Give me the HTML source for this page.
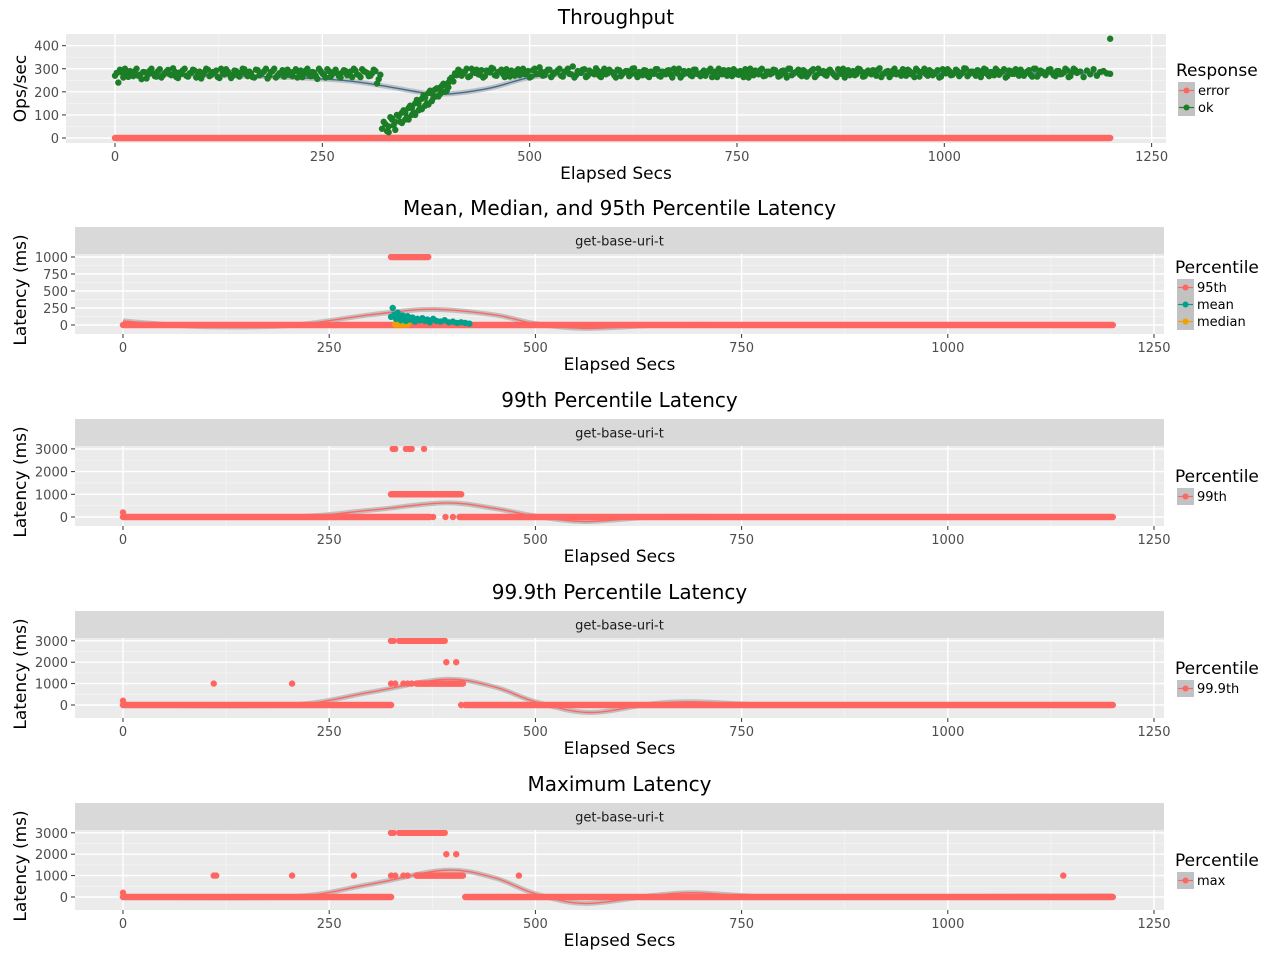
<!DOCTYPE html>
<html><head><meta charset="utf-8">
<style>
html,body{margin:0;padding:0;background:#fff;}
svg{display:block;font-family:"DejaVu Sans","Liberation Sans",sans-serif;}
</style></head>
<body>
<svg id="chart" width="1280" height="960" xmlns="http://www.w3.org/2000/svg"></svg>
<script>
// ---------- DATA ----------
const xTicks = [0, 250, 500, 750, 1000, 1250];
const throughputTicks = [0, 100, 200, 300, 400];
const latencyTicks2 = [0, 250, 500, 750, 1000];
const latencyTicks = [0, 1000, 2000, 3000];

// throughput "ok" samples every 4 s (t = 0..1200)
const okValues = [270,240,285,300,265,280,290,270,255,285,275,300,268,290,262,280,295,272,288,260,
278,300,266,284,292,270,258,286,296,274,282,264,300,276,288,260,292,272,284,298,
268,280,262,294,276,290,258,286,300,270,282,266,296,274,288,262,292,278,300,268,
284,256,290,274,298,266,286,280,262,294,272,288,300,276,264,290,282,270,296,236,
274,70,30,90,55,100,70,120,90,140,110,165,130,185,150,205,175,215,190,235,
205,255,245,272,290,280,300,268,286,296,274,262,292,284,300,270,288,276,298,266,
282,290,272,300,284,262,294,278,306,270,288,296,274,284,300,266,290,278,310,272,
286,296,264,292,280,302,270,288,276,296,284,262,294,278,290,268,300,276,286,272,
292,264,282,298,270,288,276,294,262,286,300,272,280,290,268,296,278,284,270,292,
264,288,300,276,282,294,268,290,274,286,298,262,282,292,276,300,270,288,280,294,
266,290,278,300,272,284,296,268,288,276,292,264,300,282,274,290,286,270,298,278,
262,294,284,272,300,288,268,292,276,286,296,264,280,290,274,300,282,270,288,296,
276,264,292,284,300,270,288,278,294,266,286,298,272,282,290,276,302,268,288,280,
294,264,300,276,286,272,292,282,298,268,290,278,284,296,270,288,274,300,266,292,
280,286,298,272,290,276,284,294,268,300,282,288,264,292,276,298,270,286,290,280,278];
// throughput "ok" samples at t = 2, 6, 10, ... 1198
const okValues2 = [282,296,262,278,290,268,300,274,286,258,292,280,266,298,272,288,276,302,264,284,
294,270,280,296,262,288,274,300,268,286,292,260,282,298,276,270,290,266,300,278,
288,264,296,272,284,300,270,290,262,280,294,276,288,268,298,284,264,292,274,286,
270,300,280,262,290,276,296,268,284,290,278,264,292,272,298,286,268,280,290,255,
40,60,25,85,70,95,110,80,130,100,150,120,170,140,195,160,210,180,225,200,
240,262,280,296,270,288,264,300,282,276,294,268,290,304,272,286,296,264,280,292,
270,298,284,276,290,266,300,278,288,272,296,264,284,294,270,288,300,276,262,290,
282,298,270,286,276,292,264,300,280,288,272,296,268,284,290,276,302,264,282,294,
270,288,278,298,266,284,292,274,300,280,262,290,286,272,296,278,268,292,284,300,
276,264,288,294,270,282,298,276,290,264,286,300,272,280,294,268,288,276,296,284,
270,292,262,300,278,288,274,294,266,286,298,272,282,290,270,296,278,264,288,300,
284,272,290,276,298,266,286,280,294,270,302,278,288,264,292,276,284,298,270,290,
282,300,266,288,276,294,272,286,262,298,280,290,274,296,268,284,300,276,288,270,
290,280,296,268,284,300,274,288,262,292,278,298,270,286,282,294,266,300,276,288,
272,296,282,268,290,278,300,264,286,294];
const okExtraT = [330,334,338,342,346,350,354,358,362,366,370,374,378,382,386,390,394,398,402,406,1200];
const okExtraV = [50,80,35,95,65,110,80,130,100,150,125,175,145,195,180,215,200,230,220,260,430];
const tpSmoothT = [0,100,200,280,330,390,450,500,550,600,800,1000,1200];
const tpSmoothV = [278,272,264,248,222,190,215,262,278,281,280,281,282];
const errorRuns = [[0,1200,0]];

// panel 2: mean/median/95th
const p95Runs = [[0,1200,0],[325,370,1000]];
const meanT = [325,327,329,331,333,335,337,339,341,343,345,348,351,354,357,360,363,366,369,372,376,380,385,390,395,400,405,410,415,420];
const meanV = [120,250,150,90,180,110,70,140,100,60,130,80,110,50,90,70,100,60,80,40,90,60,50,70,40,50,30,40,30,20];
const medianRuns = [[330,345,10]];
const smooth2T = [0,50,100,200,300,375,450,500,560,650,700,800,1200];
const smooth2V = [60,10,-25,-10,150,230,150,20,-50,0,10,0,0];

// panel 3: 99th
const p99Runs = [[0,372,0],[408,1200,0],[325,410,1000]];
const p99T = [0,327,330,343,347,350,365,376,391,400];
const p99V = [200,3000,3000,3000,3000,3000,3000,0,0,0];
const smooth3T = [0,200,300,390,450,500,560,640,700,800,1200];
const smooth3V = [0,0,300,620,380,40,-200,0,30,0,0];

// panel 4: 99.9th
const p999Runs = [[0,325,0],[415,1200,0],[325,328,3000],[335,390,3000],[356,412,1000]];
const p999T = [0,110,205,325,330,340,345,350,392,404,410];
const p999V = [200,1000,1000,1000,1000,1000,1000,1000,2000,2000,0];
const smooth4T = [0,200,300,390,450,500,565,640,690,760,800,1200];
const smooth4V = [0,0,600,1200,850,150,-350,50,150,30,0,0];

// panel 5: max
const maxRuns = [[0,325,0],[415,1200,0],[325,328,3000],[335,390,3000],[356,412,1000]];
const maxT = [0,110,113,205,280,325,330,340,345,392,404,480,1140];
const maxV = [200,1000,1000,1000,1000,1000,1000,1000,1000,2000,2000,1000,1000];
const smooth5T = [0,200,300,390,450,500,560,640,690,760,800,1200];
const smooth5V = [0,0,600,1250,900,150,-300,60,200,40,0,50];

// ---------- RENDER ----------
const NS = "http://www.w3.org/2000/svg";
const svg = document.getElementById("chart");
const RED = "#FF6661", GREEN = "#1B7E26", TEAL = "#00A08A", ORANGE = "#F0A000";
function mk(tag, attrs, parent) {
  const e = document.createElementNS(NS, tag);
  for (const k in attrs) e.setAttribute(k, attrs[k]);
  (parent || svg).appendChild(e);
  return e;
}
function txt(s, x, y, size, anchor, parent, extra) {
  const e = mk("text", Object.assign({x:x, y:y, "font-size":size, "text-anchor":anchor||"middle", fill:"#000"}, extra||{}), parent);
  e.textContent = s;
  return e;
}

function panel(cfg) {
  const g = mk("g", {});
  
  
  const sx = t => cfg.x0 + t * cfg.kx;
  const sy = v => cfg.y0 - v * cfg.ky;
  const ti = txt(cfg.title, (cfg.left + cfg.right) / 2, cfg.titleY, 20, "middle", g);
  
  
  if (cfg.strip) {
    const st = mk("rect", {x:cfg.left, y:cfg.strip[0], width:cfg.right-cfg.left, height:cfg.strip[1]-cfg.strip[0], fill:"#D9D9D9"}, g);
    
    
    const stt = txt("get-base-uri-t", (cfg.left + cfg.right) / 2, (cfg.strip[0] + cfg.strip[1]) / 2 + 5, 13, "middle", g, {fill:"#1a1a1a"});
    
    
  }
  const bg = mk("rect", {x:cfg.left, y:cfg.top, width:cfg.right-cfg.left, height:cfg.bottom-cfg.top, fill:"#EBEBEB"}, g);
  
  
  const clipId = "c" + cfg.name;
  const cp = mk("clipPath", {id: clipId}, g);
  mk("rect", {x:cfg.left, y:cfg.top, width:cfg.right-cfg.left, height:cfg.bottom-cfg.top}, cp);
  for (let i = 0; i < xTicks.length - 1; i++) {
    const m = sx((xTicks[i] + xTicks[i+1]) / 2);
    mk("line", {x1:m, x2:m, y1:cfg.top, y2:cfg.bottom, stroke:"#F4F4F4", "stroke-width":0.8}, g);
  }
  for (let i = 0; i < cfg.yTicks.length - 1; i++) {
    const m = sy((cfg.yTicks[i] + cfg.yTicks[i+1]) / 2);
    mk("line", {x1:cfg.left, x2:cfg.right, y1:m, y2:m, stroke:"#F4F4F4", "stroke-width":0.8}, g);
  }
  xTicks.forEach(t => {
    const x = sx(t);
    mk("line", {x1:x, x2:x, y1:cfg.top, y2:cfg.bottom, stroke:"#fff", "stroke-width":1.4}, g);
    mk("line", {x1:x, x2:x, y1:cfg.bottom, y2:cfg.bottom+4, stroke:"#333", "stroke-width":1}, g);
    const l = txt(String(t), x, cfg.bottom + 18, 13, "middle", g, {fill:"#4d4d4d"});
    
    
  });
  cfg.yTicks.forEach(v => {
    const y = sy(v);
    mk("line", {x1:cfg.left, x2:cfg.right, y1:y, y2:y, stroke:"#fff", "stroke-width":1.4}, g);
    mk("line", {x1:cfg.left-4, x2:cfg.left, y1:y, y2:y, stroke:"#333", "stroke-width":1}, g);
    const l = txt(String(v), cfg.left - 7, y + 5, 13, "end", g, {fill:"#4d4d4d"});
    
    
  });
  const xt = txt("Elapsed Secs", (cfg.left + cfg.right) / 2, cfg.bottom + 36, 17, "middle", g);
  
  
  const cy = (cfg.top + cfg.bottom) / 2 + (cfg.strip ? -4 : 0);
  const yt = txt(cfg.yTitle, 0, 0, 17, "middle", g, {transform:"translate(26," + cy + ") rotate(-90)"});
  
  

  const data = mk("g", {"clip-path":"url(#" + clipId + ")"}, g);
  cfg.smooths.forEach(sm => {
    const pts = sm.t.map((t, i) => [sx(t), sy(sm.v[i])]);
    let d = "M" + pts[0][0] + "," + pts[0][1];
    for (let i = 0; i < pts.length - 1; i++) {
      const p0 = pts[Math.max(0, i-1)], p1 = pts[i], p2 = pts[i+1], p3 = pts[Math.min(pts.length-1, i+2)];
      const c1 = [p1[0] + (p2[0]-p0[0])/6, p1[1] + (p2[1]-p0[1])/6];
      const c2 = [p2[0] - (p3[0]-p1[0])/6, p2[1] - (p3[1]-p1[1])/6];
      d += " C" + c1[0] + "," + c1[1] + " " + c2[0] + "," + c2[1] + " " + p2[0] + "," + p2[1];
    }
    const rib = mk("path", {d:d, fill:"none", stroke:"#B5B5B5", "stroke-width":5, opacity:0.8}, data);
    
    
    const ln = mk("path", {d:d, fill:"none", stroke:sm.color, "stroke-width":1.4}, data);
    
    
  });
  cfg.runs.forEach(r => {
    r.data.forEach(run => {
      const ln = mk("line", {x1:sx(run[0]), x2:sx(run[1]), y1:sy(run[2]), y2:sy(run[2]), stroke:r.color, "stroke-width":6.5, "stroke-linecap":"round"}, data);
      
      
    });
  });
  cfg.points.forEach(p => {
    p.t.forEach((t, i) => {
      const c = mk("circle", {cx:sx(t), cy:sy(p.v[i]), r:3.2, fill:p.color}, data);
      
      
    });
  });
  const lg = mk("g", {}, g);
  
  
  const lt = txt(cfg.legendTitle, cfg.legX - 2, cfg.legY, 17, "start", lg);
  
  
  cfg.legend.forEach((e, i) => {
    const y = cfg.legY + 6 + i * 17;
    const k = mk("rect", {x:cfg.legX, y:y, width:17, height:17, fill:"#C2C2C2"}, lg);
    
    
    mk("line", {x1:cfg.legX+1, x2:cfg.legX+16, y1:y+8.5, y2:y+8.5, stroke:e.color, "stroke-width":1.2}, lg);
    mk("circle", {cx:cfg.legX+8.5, cy:y+8.5, r:3, fill:e.color}, lg);
    const lab = txt(e.label, cfg.legX + 20, y + 13, 13, "start", lg);
    
    
  });
}

const okT = okValues.map((v, i) => i * 4);
const okT2 = okValues2.map((v, i) => i * 4 + 2);

panel({name:"throughput-panel", title:"Throughput", titleY:24, left:66, right:1166, top:34, bottom:143,
  x0:115, kx:0.8293, y0:138, ky:0.2308, yTicks:throughputTicks, yTitle:"Ops/sec",
  smooths:[{t:tpSmoothT, v:tpSmoothV, color:"#3A6E9A"}],
  runs:[{name:"error", data:errorRuns, color:RED}],
  points:[{name:"ok", t:okT, v:okValues, color:GREEN},{name:"ok", t:okT2, v:okValues2, color:GREEN},{name:"ok", t:okExtraT, v:okExtraV, color:GREEN}],
  legendTitle:"Response", legX:1178, legY:76,
  legend:[{label:"error", color:RED},{label:"ok", color:GREEN}]});

const latBase = {left:75, right:1164, x0:123, kx:0.8248, yTitle:"Latency (ms)", legendTitle:"Percentile", legX:1177};

panel(Object.assign({}, latBase, {name:"mean-median-95th-panel", title:"Mean, Median, and 95th Percentile Latency", titleY:215,
  strip:[227,254], top:254, bottom:334, y0:325, ky:0.068, yTicks:latencyTicks2,
  smooths:[{t:smooth2T, v:smooth2V, color:RED}],
  runs:[{name:"p95", data:p95Runs, color:RED},{name:"median", data:medianRuns, color:ORANGE}],
  points:[{name:"mean", t:meanT, v:meanV, color:TEAL}],
  legY:273, legend:[{label:"95th", color:RED},{label:"mean", color:TEAL},{label:"median", color:ORANGE}]}));

panel(Object.assign({}, latBase, {name:"p99-panel", title:"99th Percentile Latency", titleY:407,
  strip:[419,446], top:446, bottom:526, y0:517, ky:0.0227, yTicks:latencyTicks,
  smooths:[{t:smooth3T, v:smooth3V, color:RED}],
  runs:[{name:"p99", data:p99Runs, color:RED}],
  points:[{name:"p99", t:p99T, v:p99V, color:RED}],
  legY:482, legend:[{label:"99th", color:RED}]}));

panel(Object.assign({}, latBase, {name:"p999-panel", title:"99.9th Percentile Latency", titleY:599,
  strip:[611,638], top:638, bottom:718, y0:705, ky:0.0214, yTicks:latencyTicks,
  smooths:[{t:smooth4T, v:smooth4V, color:RED}],
  runs:[{name:"p999", data:p999Runs, color:RED}],
  points:[{name:"p999", t:p999T, v:p999V, color:RED}],
  legY:674, legend:[{label:"99.9th", color:RED}]}));

panel(Object.assign({}, latBase, {name:"max-panel", title:"Maximum Latency", titleY:791,
  strip:[803,830], top:830, bottom:910, y0:897, ky:0.0214, yTicks:latencyTicks,
  smooths:[{t:smooth5T, v:smooth5V, color:RED}],
  runs:[{name:"max", data:maxRuns, color:RED}],
  points:[{name:"max", t:maxT, v:maxV, color:RED}],
  legY:866, legend:[{label:"max", color:RED}]}));
</script>
</body></html>
